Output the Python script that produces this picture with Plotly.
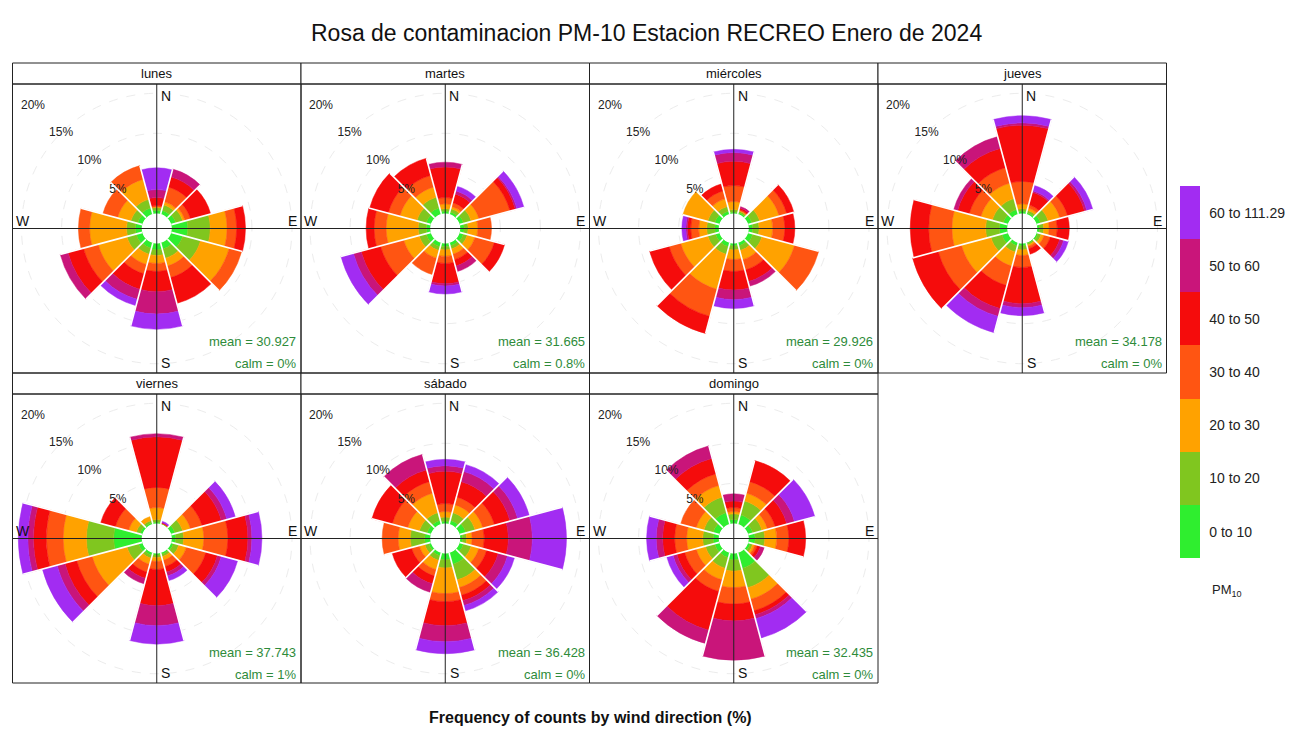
import numpy as np
import plotly.graph_objects as go

# ---------------- data ----------------
title_text = "Rosa de contaminacion PM-10 Estacion RECREO Enero de 2024"
x_title = "Frequency of counts by wind direction (%)"
days = ["lunes", "martes", "miércoles", "jueves", "viernes", "sábado", "domingo"]
directions = [0, 30, 60, 90, 120, 150, 180, 210, 240, 270, 300, 330]
band_labels = ["0 to 10", "10 to 20", "20 to 30", "30 to 40", "40 to 50", "50 to 60", "60 to 111.29"]
band_colors = ["#2FEE2F", "#80C61F", "#FFA200", "#FF5512", "#F50C0C", "#C9157A", "#A22CF2"]
means = ["30.927", "31.665", "29.926", "34.178", "37.743", "36.428", "32.435"]
calms = ["0%", "0.8%", "0%", "0%", "1%", "0%", "0%"]
pct_ticks = [5, 10, 15, 20]
compass = ["N", "E", "S", "W"]

# cumulative frequency (%) at the upper edge of each PM10 band, one list per direction
lunes = [
    [0.4, 0.75, 0.85, 1.0, 2.0, 3.0, 5.7],
    [0.5, 1.2, 1.6, 3.5, 4.8, 5.8],
    [0.6, 1.5, 1.8, 2.5, 5.1],
    [2.0, 4.8, 6.9, 8.1, 9.2],
    [1.5, 3.8, 7.5, 9.1],
    [0.8, 2.0, 3.0, 4.5, 7.8],
    [0.8, 1.5, 2.5, 3.5, 6.0, 8.8, 10.7],
    [0.7, 1.5, 2.8, 4.0, 6.0, 7.3, 8.1],
    [0.8, 2.0, 5.7, 7.6, 9.6, 10.6],
    [0.8, 1.9, 6.5, 7.9],
    [0.6, 1.5, 3.2, 5.1],
    [0.8, 1.9, 4.5, 6.25],
]
martes = [
    [0.3, 0.6, 1.2, 2.0, 5.8, 6.4],
    [0.3, 0.7, 1.0, 1.5, 2.6, 3.0, 3.6],
    [0.5, 1.5, 2.5, 6.5, 7.2, 7.4, 8.3],
    [0.5, 1.0, 2.2, 3.9],
    [0.5, 1.0, 2.0, 4.5, 5.8],
    [0.4, 0.8, 1.5, 2.2, 3.0, 3.7],
    [0.4, 0.8, 1.6, 2.5, 5.0, 5.3, 6.3],
    [0.5, 1.0, 2.0, 4.1],
    [0.6, 1.5, 3.5, 6.5, 9.0, 10.0, 11.6],
    [0.5, 1.5, 5.5, 7.0, 8.0],
    [0.6, 1.8, 4.0, 5.5, 7.9],
    [0.8, 2.2, 3.5, 5.0, 7.2],
]
miercoles = [
    [0.2, 0.5, 1.5, 3.5, 6.5, 7.6, 8.0],
    [0.2, 0.4, 0.5, 0.6, 0.8, 1.0],
    [0.5, 1.5, 4.0, 5.0, 5.9],
    [0.5, 1.3, 3.0, 4.5, 5.75],
    [0.6, 1.8, 6.0, 9.1],
    [0.4, 1.0, 2.2, 3.5, 5.0, 5.6],
    [0.3, 0.8, 2.0, 3.5, 5.8, 7.0, 8.1],
    [0.5, 1.5, 6.0, 9.5, 11.7],
    [0.5, 1.5, 5.0, 6.5, 9.0],
    [0.5, 1.5, 2.5, 3.5, 3.9, 4.1, 4.6],
    [0.6, 1.5, 4.7],
    [0.4, 1.0, 2.0, 3.0, 3.9],
]
jueves = [
    [0.3, 0.6, 1.2, 4.0, 11.0, 11.3, 12.2],
    [0.2, 0.5, 0.8, 1.2, 2.8, 3.0, 3.7],
    [0.5, 1.5, 3.0, 4.0, 6.2, 6.5, 7.25],
    [0.3, 0.8, 1.5, 2.5, 4.0],
    [0.2, 0.6, 1.0, 1.8, 3.0, 3.5, 4.1],
    [0.1, 0.3, 0.5, 0.8, 1.5],
    [0.3, 0.8, 1.5, 3.0, 7.5, 8.0, 9.0],
    [0.4, 1.2, 3.0, 5.5, 8.5, 9.5, 11.6],
    [0.8, 2.2, 6.0, 9.0, 12.3],
    [1.0, 2.7, 6.9, 9.8, 12.1],
    [0.6, 2.0, 3.5, 5.0, 6.5, 7.0],
    [0.6, 2.0, 4.0, 6.0, 8.5, 10.0],
]
viernes = [
    [0.2, 0.5, 2.0, 4.5, 10.8, 11.2],
    [0.05, 0.1, 0.12, 0.15, 0.2, 0.25, 0.4],
    [0.5, 1.5, 2.5, 4.0, 6.5, 7.2, 8.3],
    [0.5, 1.5, 4.0, 7.0, 9.5, 10.0, 11.25],
    [0.3, 1.0, 2.0, 4.5, 6.0, 6.5, 8.6],
    [0.2, 0.5, 1.0, 1.8, 2.5, 3.0, 3.6],
    [0.2, 0.5, 1.0, 2.0, 6.5, 9.0, 11.3],
    [0.3, 0.7, 1.5, 2.5, 3.3, 4.0],
    [0.5, 2.0, 6.5, 8.5, 10.0, 11.0, 12.9],
    [3.5, 6.9, 9.8, 11.9, 13.5, 14.2, 15.4],
    [0.3, 0.8, 1.8, 3.5, 5.4],
    [0.2, 0.5, 1.0],
]
sabado = [
    [0.3, 0.8, 1.5, 2.5, 6.5, 7.2, 8.0],
    [0.5, 1.5, 2.5, 3.5, 5.5, 6.8, 7.7],
    [0.8, 2.0, 3.0, 4.5, 6.5, 7.5, 9.0],
    [0.3, 0.8, 1.5, 3.0, 6.0, 9.0, 13.25],
    [0.5, 1.5, 2.5, 3.5, 5.0, 6.2, 7.1],
    [1.5, 3.5, 4.5, 5.5, 6.2, 6.8, 7.5],
    [0.8, 1.8, 5.0, 6.0, 9.0, 11.0, 12.5],
    [0.4, 1.0, 2.2, 3.0, 4.0, 5.1],
    [0.3, 0.8, 1.5, 2.5, 5.0],
    [0.7, 2.5, 4.0, 6.0],
    [0.5, 1.5, 3.0, 5.0, 7.6],
    [0.5, 1.5, 4.0, 5.5, 7.0, 9.0],
]
domingo = [
    [0.5, 1.2, 1.5, 2.0, 2.8, 3.7],
    [1.2, 3.0, 4.0, 5.5, 8.2],
    [0.6, 1.8, 2.5, 3.5, 5.0, 6.0, 8.6],
    [0.8, 2.0, 3.5, 5.0, 7.1],
    [0.3, 0.6, 0.9, 1.2, 1.6, 2.1],
    [2.0, 4.5, 6.0, 7.5, 8.0, 8.5, 11.0],
    [0.8, 2.2, 4.25, 6.3, 8.4, 13.3],
    [0.6, 2.0, 3.5, 5.0, 10.0, 11.7],
    [0.6, 1.8, 3.0, 4.5, 5.5, 6.0, 6.8],
    [0.7, 2.0, 4.0, 5.5, 7.0, 7.8, 9.0],
    [0.8, 2.0, 3.0, 5.0],
    [1.5, 3.5, 5.0, 6.5, 8.5, 10.1],
]
rose_data = [lunes, martes, miercoles, jueves, viernes, sabado, domingo]

# ---------------- layout geometry ----------------
W, H = 1315, 739
FONT = "Liberation Sans, Arial, sans-serif"
col_edges = [12.5, 301, 589.5, 878, 1166.5]
rows = [(63, 84, 373), (373, 394, 683)]   # strip top, panel top, panel bottom (px)
R_MAX = 16.125
HOLE = 15 / 144.25
nb = len(band_labels)


def px(x):
    return x / W


def py(y):
    return 1 - y / H


def ann(text, x, y, size, color="#111111", xanchor="center", yanchor="middle"):
    return dict(text=text, x=px(x), y=py(y), xref="paper", yref="paper",
                xanchor=xanchor, yanchor=yanchor, showarrow=False,
                font=dict(family=FONT, size=size, color=color))


cscale = []
for k, c in enumerate(band_colors):
    cscale += [[k / nb, c], [(k + 1) / nb, c]]

fig = go.Figure()
shapes, annotations = [], []
layout_polars = {}

for i, (day, data) in enumerate(zip(days, rose_data)):
    row, col = divmod(i, 4)
    x0, x1 = col_edges[col], col_edges[col + 1]
    st, pt, pb = rows[row]
    sub = "polar" if i == 0 else f"polar{i + 1}"
    cum = np.array([np.pad(np.array(d, float), (0, nb - len(d)), mode="edge") for d in data])
    inc = np.diff(np.concatenate([np.zeros((len(directions), 1)), cum], axis=1), axis=1)
    tot = cum[:, -1]
    cx, cy = (x0 + x1) / 2, (pt + pb) / 2
    rad_px = (x1 - x0) / 2

    # percentage labels along the NW diagonal (inside the radial range)
    in_rng = [p for p in pct_ticks if p <= R_MAX]
    fig.add_trace(go.Scatterpolar(
        r=in_rng, theta=[315] * len(in_rng), mode="text",
        text=[f"{p}%" for p in in_rng],
        textfont=dict(family=FONT, size=12, color="#222222"),
        cliponaxis=False, subplot=sub, showlegend=False, hoverinfo="skip"))
    # labels beyond the radial range, placed on the same scale
    for p in pct_ticks:
        if p > R_MAX:
            d = rad_px * (HOLE + (1 - HOLE) * p / R_MAX)
            annotations.append(ann(f"{p}%", cx - d * np.sqrt(0.5), cy - d * np.sqrt(0.5),
                                   12, "#222222"))

    for k in range(nb):
        fig.add_trace(go.Barpolar(
            r=inc[:, k], theta=directions, width=[30] * len(directions),
            name=band_labels[k], subplot=sub, showlegend=False,
            marker=dict(color=[k + 0.5] * len(directions), colorscale=cscale,
                        cmin=0, cmax=nb,
                        line=dict(color=band_colors[k], width=0.5),
                        showscale=(i == 0 and k == 0),
                        colorbar=dict(
                            x=px(1180), xanchor="left", xpad=0,
                            y=py(372.3), yanchor="middle", ypad=0,
                            len=372, lenmode="pixels",
                            thickness=20, thicknessmode="pixels",
                            tickvals=[j + 0.5 for j in range(nb)],
                            ticktext=band_labels, ticks="outside", ticklen=7,
                            tickcolor="rgba(0,0,0,0)", outlinewidth=0,
                            tickfont=dict(family=FONT, size=14, color="#222222"))),
            hovertemplate="%{theta}°: %{r:.2f}%<extra>" + band_labels[k] + "</extra>"))

    # white separators between wedges
    sep_r, sep_t = [], []
    for j in range(len(directions)):
        m = max(tot[j], tot[(j + 1) % len(directions)])
        sep_r += [0, m, None]
        sep_t += [directions[j] + 15, directions[j] + 15, None]
    fig.add_trace(go.Scatterpolar(r=sep_r, theta=sep_t, mode="lines",
                                  line=dict(color="white", width=1.6),
                                  subplot=sub, showlegend=False, hoverinfo="skip"))

    layout_polars[sub] = dict(
        domain=dict(x=[px(x0), px(x1)], y=[py(pb), py(pt)]),
        hole=HOLE, bgcolor="rgba(0,0,0,0)", barmode="stack",
        radialaxis=dict(range=[0, R_MAX], tickvals=in_rng, showticklabels=False,
                        ticks="", showline=False, gridcolor="#ececec", griddash="dash",
                        gridwidth=1),
        angularaxis=dict(rotation=90, direction="clockwise", showgrid=False,
                         showticklabels=False, ticks="", showline=False))

    # strip and panel frames
    shapes.append(dict(type="rect", xref="paper", yref="paper", x0=px(x0), x1=px(x1),
                       y0=py(pt), y1=py(st), line=dict(color="#222222", width=1),
                       fillcolor="white", layer="below"))
    shapes.append(dict(type="rect", xref="paper", yref="paper", x0=px(x0), x1=px(x1),
                       y0=py(pb), y1=py(pt), line=dict(color="#222222", width=1)))
    # cross hair
    shapes.append(dict(type="line", xref="paper", yref="paper", x0=px(cx), x1=px(cx),
                       y0=py(pb), y1=py(pt), line=dict(color="#222222", width=1)))
    shapes.append(dict(type="line", xref="paper", yref="paper", x0=px(x0), x1=px(x1),
                       y0=py(cy), y1=py(cy), line=dict(color="#222222", width=1)))
    # compass letters
    annotations.append(ann("N", cx + 9, cy - 133, 14))
    annotations.append(ann("S", cx + 9, cy + 134, 14))
    annotations.append(ann("E", x1 - 9, cy - 8, 14))
    annotations.append(ann("W", x0 + 10, cy - 8, 14))
    annotations.append(ann(day, cx, (st + pt) / 2, 13))
    annotations.append(ann(f"mean = {means[i]}", x1 - 3, pb - 31, 13, "#2E8B3A", "right"))
    annotations.append(ann(f"calm = {calms[i]}", x1 - 3, pb - 9, 13, "#2E8B3A", "right"))

annotations.append(ann(title_text, 646, 33, 23))
annotations.append(ann(f"<b>{x_title}</b>", 590, 717, 16))
annotations.append(ann("PM<sub>10</sub>", 1210, 590, 13, "#222222", "left"))

fig.update_layout(width=W, height=H, margin=dict(l=0, r=0, t=0, b=0),
                  paper_bgcolor="white", plot_bgcolor="white",
                  shapes=shapes, annotations=annotations, **layout_polars)
fig.write_html("out.html", config={"displayModeBar": False},
               post_script="document.body.style.margin='0';document.body.style.overflow='hidden';")
